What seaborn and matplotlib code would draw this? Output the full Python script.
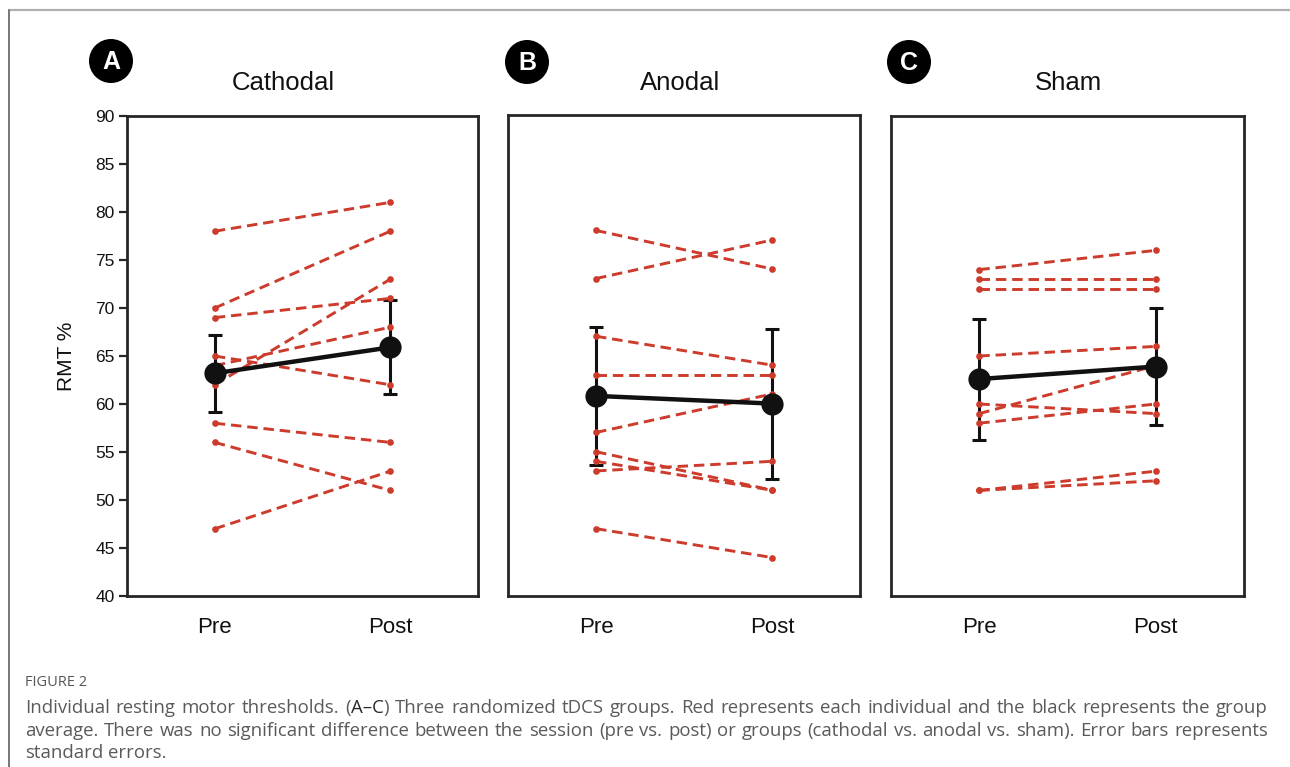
import numpy as np
import pandas as pd
import seaborn as sns
import matplotlib
matplotlib.use("Agg")
import matplotlib.pyplot as plt
from matplotlib.patches import Circle
from matplotlib.lines import Line2D

# ---------------- data ----------------
sessions = ["Pre", "Post"]
groups = ["Cathodal", "Anodal", "Sham"]
panel_letters = ["A", "B", "C"]

cathodal_pre = [78, 70, 69, 65, 64, 62, 58, 56, 47]
cathodal_post = [81, 78, 71, 62, 68, 73, 56, 51, 53]

anodal_pre = [78, 73, 67, 63, 57, 55, 54, 53, 47]
anodal_post = [74, 77, 64, 63, 61, 51, 51, 54, 44]

sham_pre = [74, 73, 72, 65, 60, 59, 58, 51, 51]
sham_post = [76, 73, 72, 66, 59, 64, 60, 53, 52]

mean_pre = [63.2, 60.8, 62.6]
mean_post = [65.9, 60.0, 63.9]
err_pre = [4.0, 7.2, 6.3]
err_post = [4.9, 7.8, 6.1]

y_ticks = [40, 45, 50, 55, 60, 65, 70, 75, 80, 85, 90]

# ---------------- style ----------------
sns.set_theme(style="white")
plt.rcParams["font.family"] = ["Liberation Sans", "DejaVu Sans"]

RED = "#cc3b2b"
FRAME = "#262626"
W, H = 1290, 767
fig = plt.figure(figsize=(W / 100, H / 100), dpi=100)
fig.patch.set_facecolor("white")

# axes boxes in pixels: left, right, top, bottom
boxes = [(127, 478, 116, 596), (508, 860, 115, 596), (891, 1244, 116, 596)]
title_x = [283, 680, 1068]
circle_xy = [(111, 61), (527, 62), (909, 62)]

pre_all = [cathodal_pre, anodal_pre, sham_pre]
post_all = [cathodal_post, anodal_post, sham_post]

for i in range(3):
    l, r, t, b = boxes[i]
    ax = fig.add_axes([l / W, 1 - b / H, (r - l) / W, (b - t) / H])
    n = len(pre_all[i])
    df = pd.DataFrame({
        "subject": list(range(n)) * 2,
        "x": [0] * n + [1] * n,
        "rmt": pre_all[i] + post_all[i],
    })
    # error bars (group mean +/- SE)
    ax.errorbar([0, 1], [mean_pre[i], mean_post[i]], yerr=[err_pre[i], err_post[i]],
                fmt="none", ecolor="#111111", elinewidth=2.2, capsize=5, capthick=2.2,
                zorder=2)
    # individual subjects
    sns.lineplot(data=df, x="x", y="rmt", units="subject", estimator=None,
                 color=RED, marker="o", markersize=4.8, markeredgewidth=0,
                 linewidth=2.1, ax=ax, legend=False, zorder=3)
    for ln in ax.lines:
        if matplotlib.colors.to_hex(ln.get_color()) == RED:
            ln.set_linestyle((0, (3.6, 2.0)))
    # group mean
    mdf = pd.DataFrame({"x": [0, 1], "rmt": [mean_pre[i], mean_post[i]]})
    sns.lineplot(data=mdf, x="x", y="rmt", color="#111111", marker="o",
                 markersize=16, markeredgewidth=0, linewidth=3.2, ax=ax,
                 legend=False, zorder=5)

    ax.set_xlim(-0.5, 1.5)
    ax.set_ylim(40, 90)
    ax.set_xticks([0, 1])
    ax.set_xticklabels(sessions, fontsize=16, color="#111111")
    ax.tick_params(axis="x", length=0, pad=15)
    ax.set_xlabel("")
    for sp in ax.spines.values():
        sp.set_visible(True)
        sp.set_color(FRAME)
        sp.set_linewidth(2.0)
    if i == 0:
        ax.set_yticks(y_ticks)
        ax.tick_params(axis="y", length=6, width=1.6, color=FRAME, labelsize=12.5,
                       labelcolor="#111111", pad=3, left=True, direction="out")
        ax.set_ylabel("RMT %", fontsize=15, color="#111111", labelpad=14)
    else:
        ax.set_yticks([])
        ax.set_ylabel("")
    ax.set_facecolor("white")

    # title
    fig.text(title_x[i] / W, 1 - 83 / H, groups[i], ha="center", va="center",
             fontsize=18.5, color="#111111")
    # panel letter in black circle
    cx, cy = circle_xy[i]
    fig.add_artist(Circle((cx / 100, (H - cy) / 100), 0.22,
                          transform=fig.dpi_scale_trans, facecolor="black",
                          edgecolor="none"))
    fig.text(cx / W, 1 - (cy + 1) / H, panel_letters[i], ha="center", va="center",
             fontsize=18, fontweight="bold", color="white")

# page frame lines
fig.add_artist(Line2D([9 / W, 1], [1 - 10 / H, 1 - 10 / H], transform=fig.transFigure,
                      color="#b0b0b0", linewidth=1.6))
fig.add_artist(Line2D([9 / W, 9 / W], [1 - 10 / H, 0], transform=fig.transFigure,
                      color="#777777", linewidth=1.4))

# ---------------- caption ----------------
CAP_FONT = ["Open Sans", "DejaVu Sans"]
CAP_COLOR = "#5a5a5a"
fig.text(25 / W, 1 - 683 / H, "FIGURE 2", ha="left", va="center", fontsize=10.5,
         color="#555555", family=CAP_FONT)

cap_lines = [
    "Individual resting motor thresholds. (A\u2013C) Three randomized tDCS groups. Red represents each individual and the black represents the group",
    "average. There was no significant difference between the session (pre vs. post) or groups (cathodal vs. anodal vs. sham). Error bars represents",
    "standard errors.",
]
cap_y = [708, 731, 753]
left_px, right_px = 25, 1268

renderer = fig.canvas.get_renderer()

# choose caption size so that the longest line nearly fills the width
probe = fig.text(0, 0, "", fontsize=10, family=CAP_FONT)
max_w = 0
for line in cap_lines[:2]:
    probe.set_text(line)
    max_w = max(max_w, probe.get_window_extent(renderer).width)
probe.remove()
CAP_SIZE = min(14.5, 10 * (right_px - left_px) * 0.985 / max_w)


def segments(word):
    if word == "(A\u2013C)":
        return [("(", False), ("A\u2013C", True), (")", False)]
    return [(word, False)]


for li, line in enumerate(cap_lines):
    words = line.split(" ")
    items = []
    widths = []
    for w in words:
        segs = []
        wtot = 0
        for txt, dark in segments(w):
            t = fig.text(0, 1 - cap_y[li] / H, txt, ha="left", va="center",
                         fontsize=CAP_SIZE, family=CAP_FONT,
                         color=("#2a2a2a" if dark else CAP_COLOR))
            bw = t.get_window_extent(renderer).width
            segs.append((t, bw))
            wtot += bw
        items.append(segs)
        widths.append(wtot)
    justify = li < len(cap_lines) - 1
    if justify and len(words) > 1:
        gap = (right_px - left_px - sum(widths)) / (len(words) - 1)
    else:
        sp = fig.text(0, 0, "a a", fontsize=CAP_SIZE, family=CAP_FONT)
        sp2 = fig.text(0, 0, "aa", fontsize=CAP_SIZE, family=CAP_FONT)
        gap = sp.get_window_extent(renderer).width - sp2.get_window_extent(renderer).width
        sp.remove(); sp2.remove()
    x = left_px
    for segs, wtot in zip(items, widths):
        xx = x
        for t, bw in segs:
            t.set_x(xx / W)
            xx += bw
        x += wtot + gap

fig.savefig("out.png", dpi=100, facecolor="white")
